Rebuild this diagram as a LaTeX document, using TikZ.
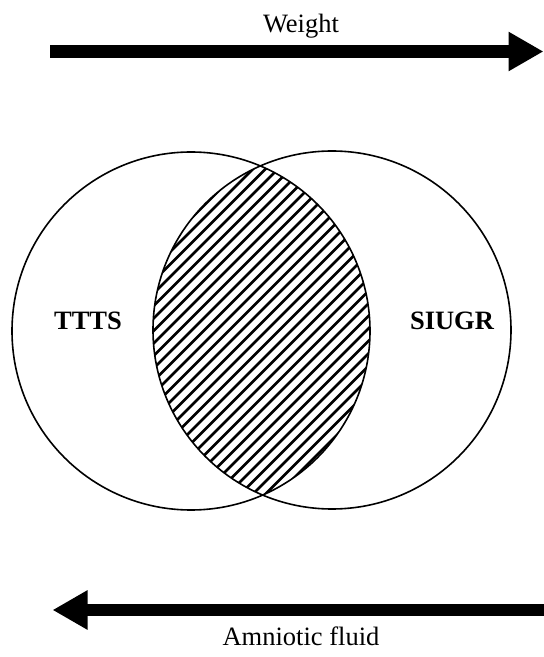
\documentclass[tikz,border=0pt]{standalone}
\usepackage{fontspec}
\setmainfont{Liberation Serif}
\usetikzlibrary{arrows.meta}
\begin{document}
\begin{tikzpicture}[x=1pt,y=1pt,
  bigarrow/.style={line width=12.5pt,-{Triangle[length=35pt,width=37pt]}},
  ring/.style={line width=1.6pt},
  hatchline/.style={line width=2.5pt},
  lbl/.style={anchor=base,inner sep=0pt,font=\fontsize{26.5}{30}\selectfont},
  blbl/.style={lbl,font=\fontsize{26.5}{30}\selectfont\bfseries}]
\useasboundingbox[fill=white] (0,0) rectangle (544,657);
% hatching of the overlap
\begin{scope}
  \clip (191,326) circle (179);
  \clip (332,327) circle (179);
  \foreach \c in {-215,-202.5,...,345} {
    \draw[hatchline] (140,140+\c) -- (380,380+\c);
  }
\end{scope}
\node[circle,draw,ring,minimum size=358pt,inner sep=0pt] (L) at (191,326) {};
\node[circle,draw,ring,minimum size=358pt,inner sep=0pt] (R) at (332,327) {};
\node[blbl] (ttts) at (88,327) {TTTS};
\node[blbl] (siugr) at (452,327) {SIUGR};
% arrows
\coordinate (w0) at (50,605.5);
\coordinate (w1) at (543.5,605.5);
\draw[bigarrow] (w0) -- (w1);
\node[lbl] (weight) at (301,624) {Weight};
\coordinate (a0) at (546,47);
\coordinate (a1) at (52.5,47);
\draw[bigarrow] (a0) -- (a1);
\node[lbl] (fluid) at (301,12) {Amniotic fluid};
\end{tikzpicture}
\end{document}
